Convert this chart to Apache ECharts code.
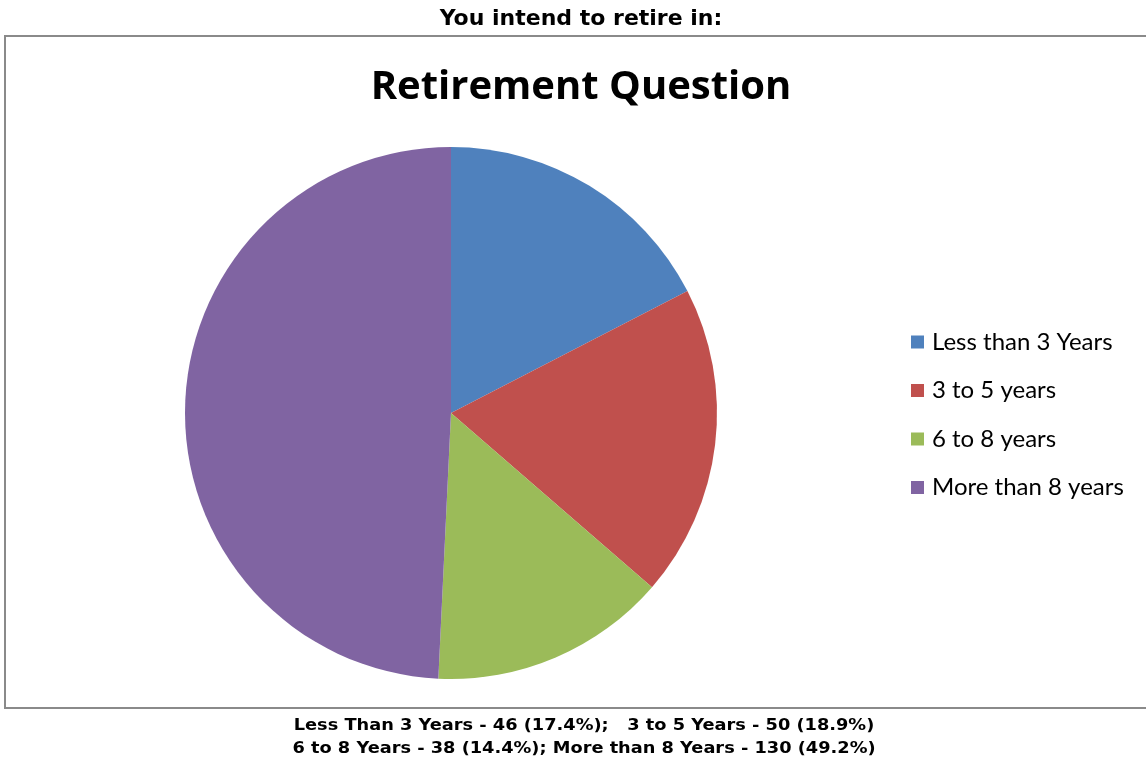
<!DOCTYPE html>
<html><head><meta charset="utf-8">
<script src="https://cdn.jsdelivr.net/npm/echarts@6/dist/echarts.min.js"></script>
<style>html,body{margin:0;padding:0;background:#fff}#c{width:1146px;height:763px}</style>
</head><body><div id="c"></div>
<script>
const categories = ['Less than 3 Years', '3 to 5 years', '6 to 8 years', 'More than 8 years'];
const values = [46, 50, 38, 130];
const colors = ['#4F81BD', '#C0504D', '#9BBB59', '#8064A2'];
const headerText = 'You intend to retire in:';
const chartTitle = 'Retirement Question';
const footerLines = [
  'Less Than 3 Years - 46 (17.4%);   3 to 5 Years - 50 (18.9%)',
  '6 to 8 Years - 38 (14.4%); More than 8 Years - 130 (49.2%)'
];

const chart = echarts.init(document.getElementById('c'));
chart.setOption({
  animation: false,
  backgroundColor: '#fff',
  color: colors,
  title: {
    text: chartTitle, left: 576, top: 63, textAlign: 'center',
    textStyle: {fontFamily: 'Open Sans', fontWeight: 'bold', fontSize: 40, color: '#000'}
  },
  legend: {
    orient: 'vertical', left: 906, top: 325, itemGap: 24.5,
    itemWidth: 13, itemHeight: 13, icon: 'rect',
    data: categories,
    textStyle: {fontFamily: 'Lato', fontSize: 24, lineHeight: 24, color: '#000', padding: [0,0,0,3]}
  },
  graphic: [
    {type: 'rect', shape: {x: 5, y: 36, width: 1160, height: 672},
     style: {fill: 'none', stroke: '#8a8a8a', lineWidth: 2}, z: -1},
    {type: 'text', x: 581, y: 19, style: {text: headerText, textAlign: 'center', textVerticalAlign: 'middle',
      font: 'bold 22px "DejaVu Sans"', fill: '#000'}},
    {type: 'text', x: 584, y: 726, scaleX: 1.11, style: {text: footerLines[0], textAlign: 'center', textVerticalAlign: 'middle',
      font: 'bold 16px "DejaVu Sans"', fill: '#000'}},
    {type: 'text', x: 584, y: 749, scaleX: 1.11, style: {text: footerLines[1], textAlign: 'center', textVerticalAlign: 'middle',
      font: 'bold 16px "DejaVu Sans"', fill: '#000'}}
  ],
  series: [{
    type: 'pie', center: [451, 413], radius: 266, startAngle: 90, clockwise: true,
    label: {show: false}, labelLine: {show: false},
    itemStyle: {borderWidth: 0},
    emphasis: {disabled: true},
    data: categories.map((n, i) => ({name: n, value: values[i]}))
  }]
});
</script></body></html>
